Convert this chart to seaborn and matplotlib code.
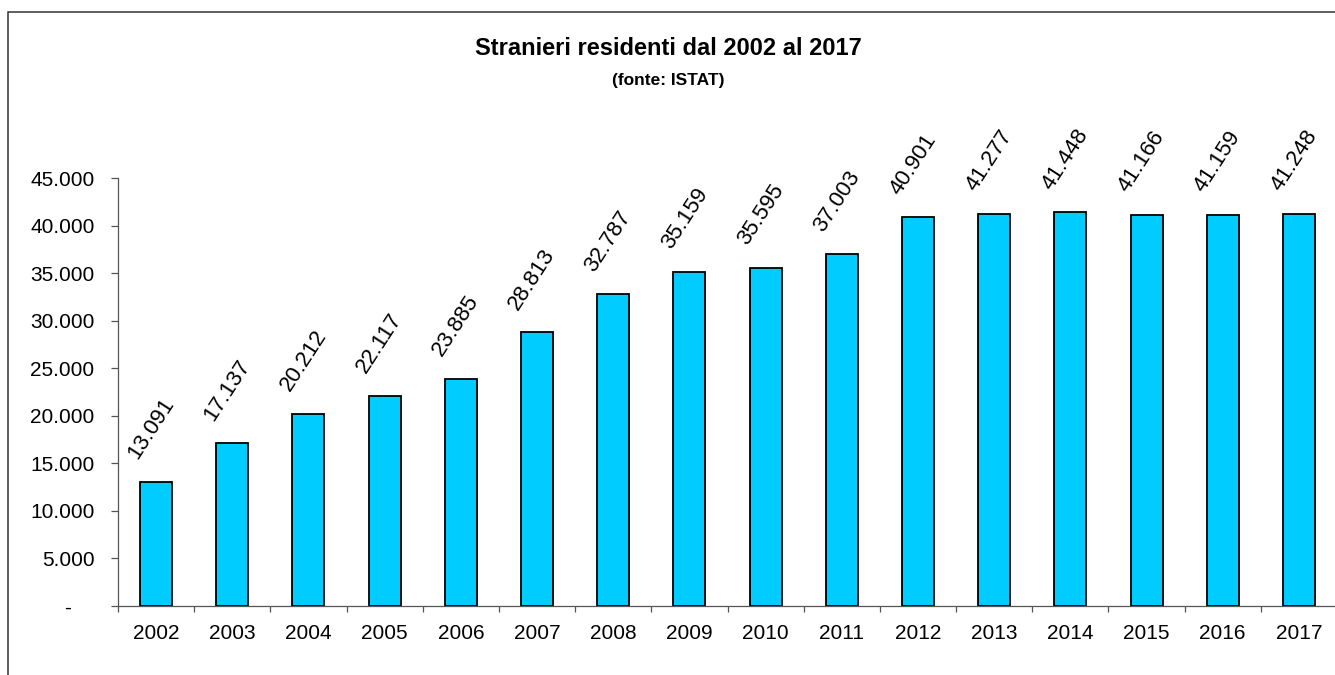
#!/usr/bin/env python3
"""Stranieri residenti dal 2002 al 2017 - bar chart"""

import matplotlib
matplotlib.use("Agg")
import matplotlib.pyplot as plt
import pandas as pd
import seaborn as sns
from matplotlib.patches import Rectangle
from matplotlib.ticker import FuncFormatter

# data (fonte: ISTAT)
years = [2002, 2003, 2004, 2005, 2006, 2007, 2008, 2009,
         2010, 2011, 2012, 2013, 2014, 2015, 2016, 2017]
residents = [13091, 17137, 20212, 22117, 23885, 28813, 32787, 35159,
             35595, 37003, 40901, 41277, 41448, 41166, 41159, 41248]
y_ticks = [0, 5000, 10000, 15000, 20000, 25000, 30000, 35000, 40000, 45000]

title = "Stranieri residenti dal 2002 al 2017"
subtitle = "(fonte: ISTAT)"


def it_number(v):
    return f"{v:,.0f}".replace(",", ".")


def y_label(v, pos):
    # accounting style: zero shown as a dash
    if v == 0:
        return "-    "
    return it_number(v)


sns.set_style("white")
plt.rcParams['font.family'] = ['Liberation Sans', 'DejaVu Sans']
plt.rcParams['text.color'] = 'black'

W, H = 1335, 675
fig = plt.figure(figsize=(W / 100, H / 100), dpi=100)
ax = fig.add_axes([118 / W, 1 - 606 / H, 1219 / W, 427.7 / H])

df = pd.DataFrame({'Anno': [str(y) for y in years], 'Stranieri': residents})
sns.barplot(data=df, x='Anno', y='Stranieri', color='#00CCFF', saturation=1,
            width=0.42, edgecolor='black', linewidth=1.3, ax=ax)

ax.set_xlim(-0.5, len(years) - 0.5)
ax.set_ylim(0, 45000)
ax.set_yticks(y_ticks)
ax.yaxis.set_major_formatter(FuncFormatter(y_label))
ax.set_xticks([i - 0.5 for i in range(len(years) + 1)], minor=True)
ax.set_xlabel("")
ax.set_ylabel("")

axis_col = '#555555'
for side in ['top', 'right']:
    ax.spines[side].set_visible(False)
for side in ['left', 'bottom']:
    ax.spines[side].set_color(axis_col)
    ax.spines[side].set_linewidth(0.9)

ax.tick_params(axis='y', left=True, direction='out', length=5, width=0.9,
               color=axis_col, pad=12, labelsize=15, labelcolor='black')
ax.tick_params(axis='x', which='major', bottom=True, length=0, pad=13,
               labelsize=15, labelcolor='black')
ax.tick_params(axis='x', which='minor', bottom=True, direction='out',
               length=4, width=0.9, color=axis_col)

# value labels above the bars
for i, v in enumerate(residents):
    ax.annotate(it_number(v), xy=(i, v), xytext=(-13.5, 15.5),
                textcoords='offset points', rotation=57,
                rotation_mode='anchor', ha='left', va='baseline',
                fontsize=16, color='black')

fig.text(668 / W, 1 - 55 / H, title, ha='center', va='baseline',
         fontsize=17, fontweight='bold')
fig.text(668 / W, 1 - 85.5 / H, subtitle, ha='center', va='baseline',
         fontsize=12.5, fontweight='bold')

# outer chart frame
fig.add_artist(Rectangle((8 / W, -0.1), 1.2, 1 - 11.5 / H + 0.1,
                         transform=fig.transFigure, fill=False,
                         edgecolor='#333333', linewidth=1.1))

fig.savefig('out.png', dpi=100)
